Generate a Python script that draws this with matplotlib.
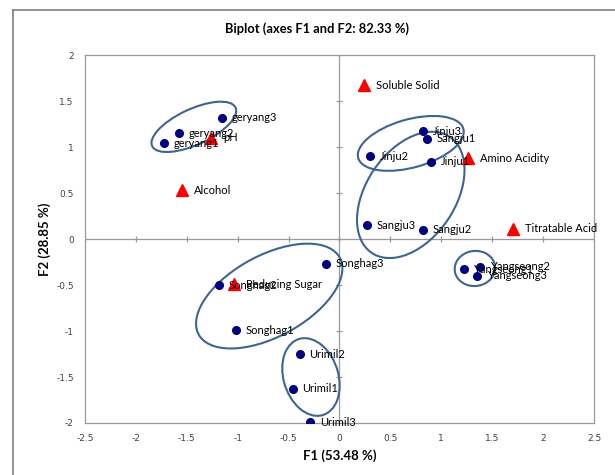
import matplotlib.pyplot as plt
from matplotlib.patches import Ellipse
from matplotlib.lines import Line2D

# observations (F1, F2)
obs_names = ["geryang1", "geryang2", "geryang3",
             "Jinju1", "Jinju2", "Jinju3",
             "Sangju1", "Sangju2", "Sangju3",
             "Yangseong1", "Yangseong2", "Yangseong3",
             "Songhag1", "Songhag2", "Songhag3",
             "Urimil1", "Urimil2", "Urimil3"]
obs_f1 = [-1.72, -1.58, -1.15,
          0.90, 0.30, 0.82,
          0.86, 0.82, 0.27,
          1.22, 1.38, 1.35,
          -1.02, -1.18, -0.13,
          -0.46, -0.39, -0.29]
obs_f2 = [1.04, 1.15, 1.32,
          0.84, 0.90, 1.17,
          1.09, 0.10, 0.15,
          -0.33, -0.30, -0.40,
          -0.99, -0.50, -0.27,
          -1.63, -1.25, -1.99]

# variables (F1, F2)
var_names = ["pH", "Alcohol", "Soluble Solid", "Amino Acidity",
             "Titratable Acid", "Reducing Sugar"]
var_f1 = [-1.26, -1.55, 0.24, 1.26, 1.70, -1.04]
var_f2 = [1.10, 0.53, 1.67, 0.88, 0.11, -0.49]

ticks_x = [-2.5, -2, -1.5, -1, -0.5, 0, 0.5, 1, 1.5, 2, 2.5]
ticks_y = [-2, -1.5, -1, -0.5, 0, 0.5, 1, 1.5, 2]

font = ["Lato", "DejaVu Sans"]
plt.rcParams['font.family'] = font

fig = plt.figure(figsize=(6.15, 4.75), dpi=100)
ax = fig.add_axes([0.138, 0.1095, 0.828, 0.7745])

# frame lines of the surrounding page
fig.add_artist(Line2D([13/615, 1], [1 - 10/475] * 2, color="#7f7f7f", lw=1.2))
fig.add_artist(Line2D([13/615] * 2, [0, 1 - 10/475], color="#7f7f7f", lw=1.2))

ax.set_xlim(-2.5, 2.5)
ax.set_ylim(-2, 2)
ax.set_xticks(ticks_x)
ax.set_yticks(ticks_y)
ax.set_xticklabels([("%g" % t) for t in ticks_x], fontsize=6.5, family="DejaVu Sans")
ax.set_yticklabels([("%g" % t) for t in ticks_y], fontsize=6.5, family="DejaVu Sans")
ax.tick_params(length=0, pad=8, colors="#404040")
for s in ax.spines.values():
	s.set_color("#9a9a9a")
	s.set_linewidth(0.9)

# zero axes with small ticks
ax.axhline(0, color="#9a9a9a", lw=0.9, zorder=1)
ax.axvline(0, color="#9a9a9a", lw=0.9, zorder=1)
for t in ticks_x:
	ax.plot(t, 0, marker="|", color="#9a9a9a", ms=5, mew=0.9, zorder=1)
for t in ticks_y:
	ax.plot(0, t, marker="_", color="#9a9a9a", ms=5, mew=0.9, zorder=1)

# group ellipses
ell_color = "#3d6593"
groups = [
	((-1.43, 1.22), 0.92, 0.38, 28),
	((0.70, 1.04), 1.08, 0.52, 18),
	((0.70, 0.48), 1.48, 0.90, 62),
	((1.33, -0.32), 0.40, 0.38, 20),
	((-0.69, -0.62), 1.62, 0.86, 33),
	((-0.28, -1.50), 0.86, 0.54, 104),
]
for c, w, h, a in groups:
	ax.add_patch(Ellipse(c, w, h, angle=a, fill=False, ec=ell_color, lw=1.5, zorder=2))

ax.plot(obs_f1, obs_f2, "o", color="#00007f", ms=5.5, ls="none", zorder=3)
ax.plot(var_f1, var_f2, "^", color="#ff0000", ms=9, ls="none", zorder=3)

for n, x, y in zip(obs_names, obs_f1, obs_f2):
	ax.annotate(n, (x, y), xytext=(7, 0), textcoords="offset points",
		va="center", ha="left", fontsize=8, zorder=4)
for n, x, y in zip(var_names, var_f1, var_f2):
	ax.annotate(n, (x, y), xytext=(9, 0), textcoords="offset points",
		va="center", ha="left", fontsize=8, zorder=4)

fig.text(317/615, 1 - 29/475, "Biplot (axes F1 and F2: 82.33 %)",
	ha="center", va="center", fontsize=9.3, fontweight="bold")
fig.text(340/615, 1 - 456/475, "F1 (53.48 %)",
	ha="center", va="center", fontsize=9.5, fontweight="bold")
fig.text(45/615, 1 - 239/475, "F2 (28.85 %)", rotation=90,
	ha="center", va="center", fontsize=9.5, fontweight="bold")

plt.savefig("out.png", dpi=100)
